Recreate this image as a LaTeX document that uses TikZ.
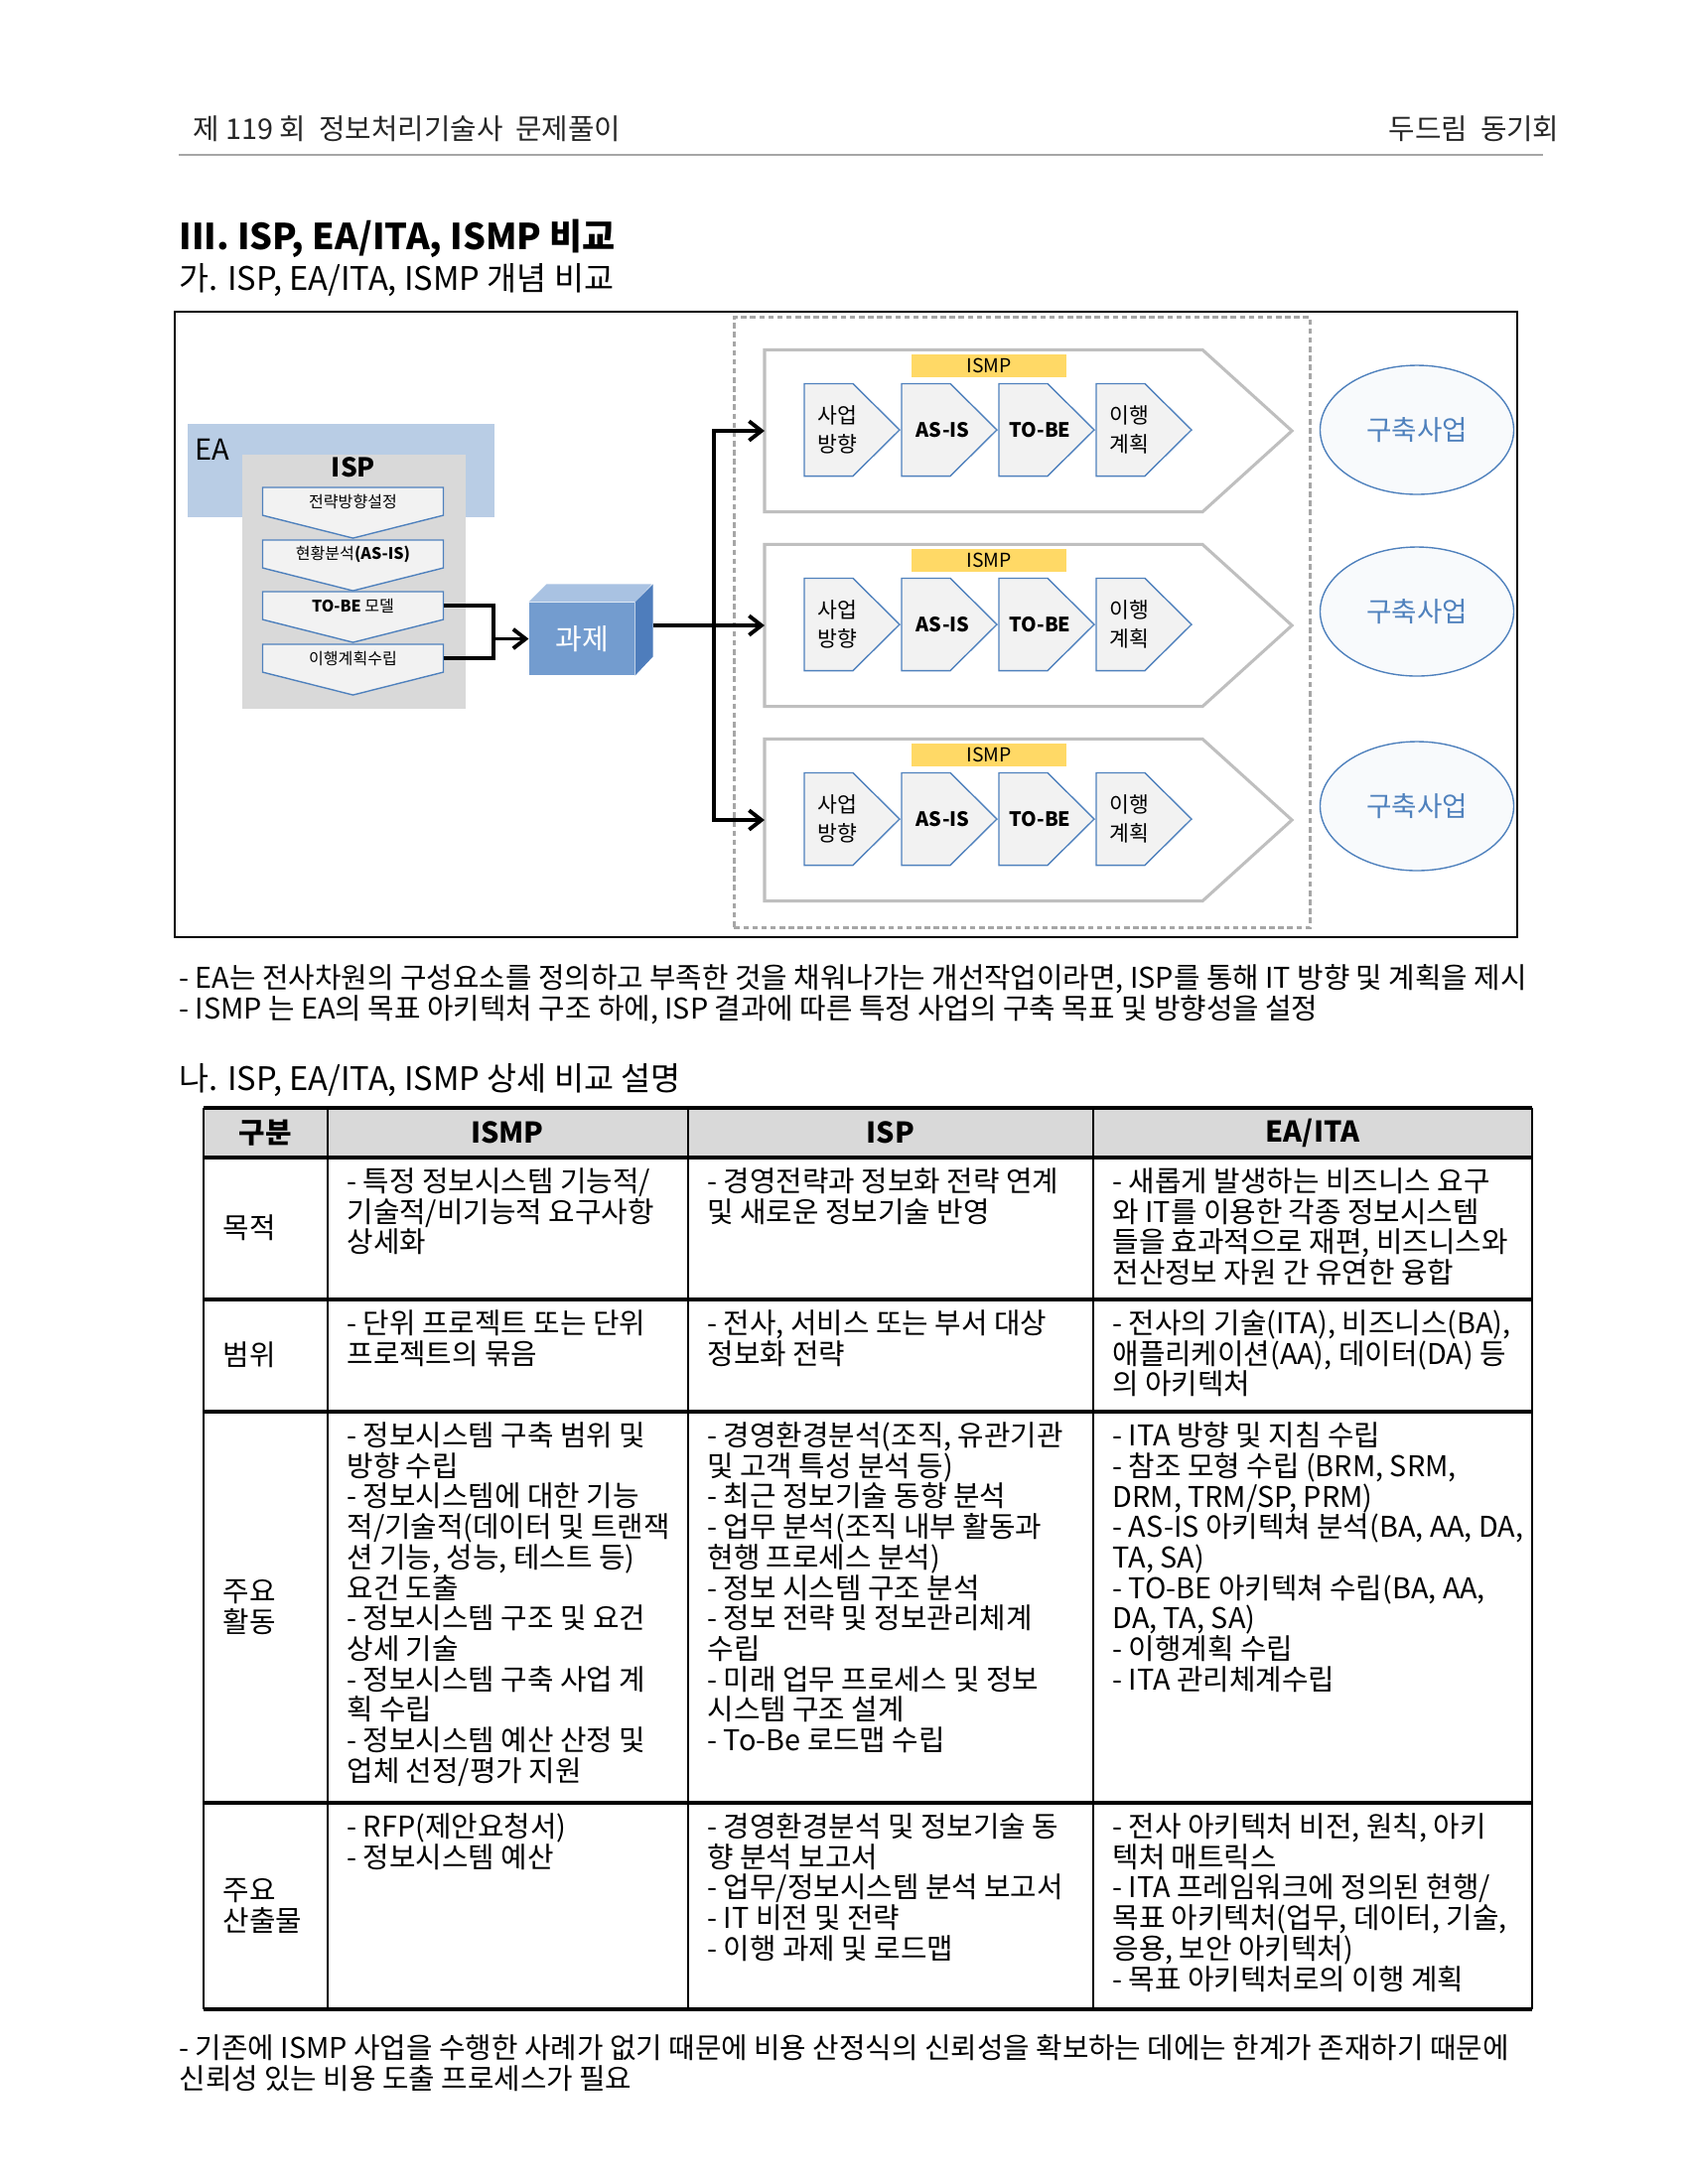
\documentclass[tikz,border=0pt]{standalone}
\usepackage{fontspec}
\setmainfont{Noto Sans CJK KR}
\usetikzlibrary{arrows.meta, positioning, calc, shapes.geometric}

\definecolor{eablue}{HTML}{B9CDE5}
\definecolor{ispgray}{HTML}{D9D9D9}
\definecolor{chevfill}{HTML}{F2F2F2}
\definecolor{chevline}{HTML}{4F81BD}
\definecolor{cubefront}{HTML}{739CCF}
\definecolor{cubetop}{HTML}{A9C2E2}
\definecolor{cubeside}{HTML}{4E7DBC}
\definecolor{ismpyel}{HTML}{FFD966}
\definecolor{frmgray}{HTML}{BFBFBF}
\definecolor{dashgray}{HTML}{A6A6A6}
\definecolor{bldblue}{HTML}{4F81BD}

\newcommand{\px}{0.127mm}
\newcommand{\bodyfnt}{\fontsize{10.4}{11.1}\selectfont}

\pgfdeclarelayer{bg}
\pgfdeclarelayer{mid}
\pgfsetlayers{bg,mid,main}

%% outlines drawn from the anchors of a text node
\newcommand{\downchev}[1]{\draw[stepline] (#1.north west) -- (#1.north east)
  -- (#1.south east) -- ($(#1.south)+(0,23)$) -- (#1.south west) -- cycle;}
\newcommand{\rightchev}[1]{\draw[stepline] (#1.north west) -- ($(#1.north west)+(49,0)$)
  -- ($(#1.west)+(96,0)$) -- ($(#1.south west)+(49,0)$) -- (#1.south west) -- cycle;}
\newcommand{\ismpframe}[1]{\draw[frmline] (#1.north west) -- (#1.north east)
  -- ($(#1.east)+(90,0)$) -- (#1.south east) -- (#1.south west) -- cycle;}

\begin{document}
\begin{tikzpicture}[x=0.127mm, y=-0.127mm,
  %% page text
  hdr/.style   ={inner sep=0, font=\fontsize{10.4}{12}\selectfont, text=black!85},
  ttl/.style   ={inner sep=0, anchor=west, font=\fontsize{13}{15}\selectfont\bfseries},
  sttl/.style  ={inner sep=0, anchor=west, font=\fontsize{11.8}{13}\selectfont},
  para/.style  ={inner sep=0, anchor=west, font=\bodyfnt},
  %% diagram boxes
  diagfrm/.style ={draw, line width=0.8pt, anchor=north west, inner sep=0},
  dashgrp/.style ={draw=dashgray, line width=1pt, dash pattern=on 2pt off 1.3pt,
                   anchor=north west, inner sep=0},
  eabox/.style   ={fill=eablue, anchor=north west, inner sep=0},
  ispbox/.style  ={fill=ispgray, anchor=north west, inner sep=0},
  stepbox/.style ={minimum width=181*\px, minimum height=27*\px, inner sep=0,
                   font=\fontsize{5.8}{7}\selectfont},
  stepline/.style={draw=chevline, fill=chevfill, line width=0.5pt},
  frmbox/.style  ={minimum width=440*\px, minimum height=162*\px, inner sep=0, anchor=west},
  frmline/.style ={draw=frmgray, fill=white, line width=1.1pt},
  ismplbl/.style ={fill=ismpyel, minimum width=156*\px, minimum height=23*\px, inner sep=0,
                   font=\fontsize{7}{8}\selectfont},
  chev/.style    ={minimum width=65*\px, minimum height=92*\px, inner sep=0, anchor=west,
                   align=left, font=\fontsize{7.8}{10.5}\selectfont},
  chevw/.style   ={chev, minimum width=82*\px, font=\fontsize{7.2}{9}\selectfont\bfseries},
  task/.style    ={fill=cubefront, minimum width=106*\px, minimum height=73*\px, inner sep=0,
                   text=white, font=\fontsize{10.5}{12}\selectfont},
  bld/.style     ={ellipse, draw=bldblue, fill=bldblue!4, line width=0.5pt,
                   minimum width=195*\px, minimum height=130*\px, inner sep=0,
                   text=bldblue, font=\fontsize{10}{12}\selectfont},
  %% connectors
  conn/.style ={line width=1.4pt},
  arr/.style  ={line width=1.4pt, -{Straight Barb[length=4.5pt, width=7pt]}},
  %% table
  tblh/.style ={line width=1.2pt},
  tblv/.style ={line width=0.8pt},
  hcell/.style={inner sep=0, font=\bodyfnt\bfseries},
  lcell/.style={inner sep=0, anchor=west, align=left, font=\bodyfnt},
  cell/.style ={inner sep=0, anchor=north west, align=left, font=\bodyfnt}
]
\begin{pgfonlayer}{bg}
\fill[white] (0,0) rectangle (1700,2200);
\end{pgfonlayer}
\useasboundingbox (0,0) rectangle (1700,2200);

%% ── PAGE HEADER ─────────────────────────────────────────────
\node[hdr, anchor=west] (hdrL) at (194,130) {제 119 회\ \ 정보처리기술사\ \ 문제풀이};
\node[hdr, anchor=east] (hdrR) at (1571,130) {두드림\ \ 동기회};
\draw[gray!70, line width=0.6pt] (180,156) -- (1554,156);

\node[ttl]  (title) at (180,240) {III. ISP, EA/ITA, ISMP 비교};
\node[sttl] (secA)  at (180,282) {가. ISP, EA/ITA, ISMP 개념 비교};

%% ── DIAGRAM FRAME ───────────────────────────────────────────
\node[diagfrm, minimum width=1352*\px, minimum height=630*\px] (diag) at (175,313) {};
\node[dashgrp, minimum width=580*\px, minimum height=615*\px] (ismpgrp) at (738,318) {};

%% ── EA / ISP ────────────────────────────────────────────────
\begin{pgfonlayer}{bg}
\node[eabox, minimum width=309*\px, minimum height=94*\px] (ea) at (188,426) {};
\node[ispbox, minimum width=225*\px, minimum height=256*\px] (isp) at (243,457) {};
\end{pgfonlayer}
\node[inner sep=0, anchor=west, font=\fontsize{10.5}{12}\selectfont] (ealbl) at (196,453) {EA};
\node[inner sep=0, font=\fontsize{9.5}{11}\selectfont\bfseries] (isplbl) at (356,471) {ISP};

\node[stepbox] (stp1) at (355.5,505) {전략방향설정};
\node[stepbox] (stp2) at (355.5,558) {현황분석\textbf{(AS-IS)}};
\node[stepbox] (stp3) at (355.5,610) {\textbf{TO-BE} 모델};
\node[stepbox] (stp4) at (355.5,663) {이행계획수립};

\begin{pgfonlayer}{mid}
\downchev{stp1} \downchev{stp2} \downchev{stp3} \downchev{stp4}
\end{pgfonlayer}

%% ── TASK CUBE ───────────────────────────────────────────────
\node[task] (task) at (586,643.5) {과제};
\fill[cubetop]  (task.north west) -- ++(18,-18) -- ++(106,0) -- (task.north east) -- cycle;
\fill[cubeside] (task.north east) -- ++(18,-18) -- ++(0,73) -- (task.south east) -- cycle;
\coordinate (taskout) at ($(task.east)+(18,-13.5)$);

%% ISP -> task
\coordinate (ispjn) at (497,643.5);
\draw[conn] (stp3.east) -| (ispjn);
\draw[conn] (stp4.east) -| (ispjn);
\draw[arr]  (ispjn) -- (task.west);

%% ── ISMP ROWS ───────────────────────────────────────────────
\node[frmbox] (frm1) at (770,434) {};
\node[frmbox] (frm2) at (770,630) {};
\node[frmbox] (frm3) at (770,826) {};
\begin{pgfonlayer}{bg}
\ismpframe{frm1} \ismpframe{frm2} \ismpframe{frm3}
\end{pgfonlayer}

\node[ismplbl] (lbl1) at (996,368) {ISMP};
\node[ismplbl] (lbl2) at (996,564) {ISMP};
\node[ismplbl] (lbl3) at (996,760) {ISMP};

%% row 1
\node[chev]  (biz1)  at (810,433)  {사업\\방향};
\node[chevw] (asis1) at (908,433)  {AS-IS};
\node[chevw] (tobe1) at (1006,433) {TO-BE};
\node[chev]  (plan1) at (1104,433) {이행\\계획};
%% row 2
\node[chev]  (biz2)  at (810,629)  {사업\\방향};
\node[chevw] (asis2) at (908,629)  {AS-IS};
\node[chevw] (tobe2) at (1006,629) {TO-BE};
\node[chev]  (plan2) at (1104,629) {이행\\계획};
%% row 3
\node[chev]  (biz3)  at (810,825)  {사업\\방향};
\node[chevw] (asis3) at (908,825)  {AS-IS};
\node[chevw] (tobe3) at (1006,825) {TO-BE};
\node[chev]  (plan3) at (1104,825) {이행\\계획};

\begin{pgfonlayer}{mid}
\rightchev{biz1} \rightchev{asis1} \rightchev{tobe1} \rightchev{plan1}
\rightchev{biz2} \rightchev{asis2} \rightchev{tobe2} \rightchev{plan2}
\rightchev{biz3} \rightchev{asis3} \rightchev{tobe3} \rightchev{plan3}
\end{pgfonlayer}

%% task fans out to the three ISMP rows
\coordinate (bus) at (719,630);
\draw[conn] (taskout) -- (bus);
\draw[arr]  (bus) |- (frm1.west);
\draw[arr]  (bus) -- (frm2.west);
\draw[arr]  (bus) |- (frm3.west);

%% ── BUILD PROJECTS ──────────────────────────────────────────
\node[bld] (bld1) at (1427,433) {구축사업};
\node[bld] (bld2) at (1427,616) {구축사업};
\node[bld] (bld3) at (1427,812) {구축사업};

%% ── NOTES ───────────────────────────────────────────────────
\node[para] (note1) at (180,986)  {- EA는 전사차원의 구성요소를 정의하고 부족한 것을 채워나가는 개선작업이라면, ISP를 통해 IT 방향 및 계획을 제시};
\node[para] (note2) at (180,1017) {- ISMP 는 EA의 목표 아키텍처 구조 하에, ISP 결과에 따른 특정 사업의 구축 목표 및 방향성을 설정};

\node[sttl] (secB) at (180,1088) {나. ISP, EA/ITA, ISMP 상세 비교 설명};

%% ── TABLE ───────────────────────────────────────────────────
\fill[ispgray] (205,1116) rectangle (1543,1166);
\draw[tblh] (205,1116) -- (1543,1116)  (205,1166) -- (1543,1166)
            (205,1309) -- (1543,1309)  (205,1422) -- (1543,1422)
            (205,1816) -- (1543,1816)  (205,2024) -- (1543,2024);
\draw[tblv] (205,1116) -- (205,2024)   (330,1116) -- (330,2024)
            (693,1116) -- (693,2024)   (1101,1116) -- (1101,2024)
            (1543,1116) -- (1543,2024);

\node[hcell] (hKind) at (267,1141)  {구분};
\node[hcell] (hIsmp) at (511,1141)  {ISMP};
\node[hcell] (hIsp)  at (897,1141)  {ISP};
\node[hcell] (hEa)   at (1322,1141) {EA/ITA};

%% purpose
\node[lcell] (kPur) at (224,1237) {목적};
\node[cell] (ismpPur) at (349,1176) {- 특정 정보시스템 기능적/\\기술적/비기능적 요구사항\\상세화};
\node[cell] (ispPur)  at (712,1176) {- 경영전략과 정보화 전략 연계\\및 새로운 정보기술 반영};
\node[cell] (eaPur)   at (1120,1176) {- 새롭게 발생하는 비즈니스 요구\\와 IT를 이용한 각종 정보시스템\\들을 효과적으로 재편, 비즈니스와\\전산정보 자원 간 유연한 융합};

%% scope
\node[lcell] (kScp) at (224,1365) {범위};
\node[cell] (ismpScp) at (349,1319) {- 단위 프로젝트 또는 단위\\프로젝트의 묶음};
\node[cell] (ispScp)  at (712,1319) {- 전사, 서비스 또는 부서 대상\\정보화 전략};
\node[cell] (eaScp)   at (1120,1319) {- 전사의 기술(ITA), 비즈니스(BA),\\애플리케이션(AA), 데이터(DA) 등\\의 아키텍처};

%% main activities
\node[lcell] (kAct) at (224,1619) {주요\\활동};
\node[cell] (ismpAct) at (349,1432) {- 정보시스템 구축 범위 및\\방향 수립\\- 정보시스템에 대한 기능\\적/기술적(데이터 및 트랜잭\\션 기능, 성능, 테스트 등)\\요건 도출\\- 정보시스템 구조 및 요건\\상세 기술\\- 정보시스템 구축 사업 계\\획 수립\\- 정보시스템 예산 산정 및\\업체 선정/평가 지원};
\node[cell] (ispAct)  at (712,1432) {- 경영환경분석(조직, 유관기관\\및 고객 특성 분석 등)\\- 최근 정보기술 동향 분석\\- 업무 분석(조직 내부 활동과\\현행 프로세스 분석)\\- 정보 시스템 구조 분석\\- 정보 전략 및 정보관리체계\\수립\\- 미래 업무 프로세스 및 정보\\시스템 구조 설계\\- To-Be 로드맵 수립};
\node[cell] (eaAct)   at (1120,1432) {- ITA 방향 및 지침 수립\\- 참조 모형 수립 (BRM, SRM,\\DRM, TRM/SP, PRM)\\- AS-IS 아키텍쳐 분석(BA, AA, DA,\\TA, SA)\\- TO-BE 아키텍쳐 수립(BA, AA,\\DA, TA, SA)\\- 이행계획 수립\\- ITA 관리체계수립};

%% main outputs
\node[lcell] (kOut) at (224,1920) {주요\\산출물};
\node[cell] (ismpOut) at (349,1826) {- RFP(제안요청서)\\- 정보시스템 예산};
\node[cell] (ispOut)  at (712,1826) {- 경영환경분석 및 정보기술 동\\향 분석 보고서\\- 업무/정보시스템 분석 보고서\\- IT 비전 및 전략\\- 이행 과제 및 로드맵};
\node[cell] (eaOut)   at (1120,1826) {- 전사 아키텍처 비전, 원칙, 아키\\텍처 매트릭스\\- ITA 프레임워크에 정의된 현행/\\목표 아키텍처(업무, 데이터, 기술,\\응용, 보안 아키텍처)\\- 목표 아키텍처로의 이행 계획};

%% ── FOOT NOTE ───────────────────────────────────────────────
\node[para] (foot1) at (180,2063) {- 기존에 ISMP 사업을 수행한 사례가 없기 때문에 비용 산정식의 신뢰성을 확보하는 데에는 한계가 존재하기 때문에};
\node[para] (foot2) at (180,2094) {신뢰성 있는 비용 도출 프로세스가 필요};

\end{tikzpicture}
\end{document}
